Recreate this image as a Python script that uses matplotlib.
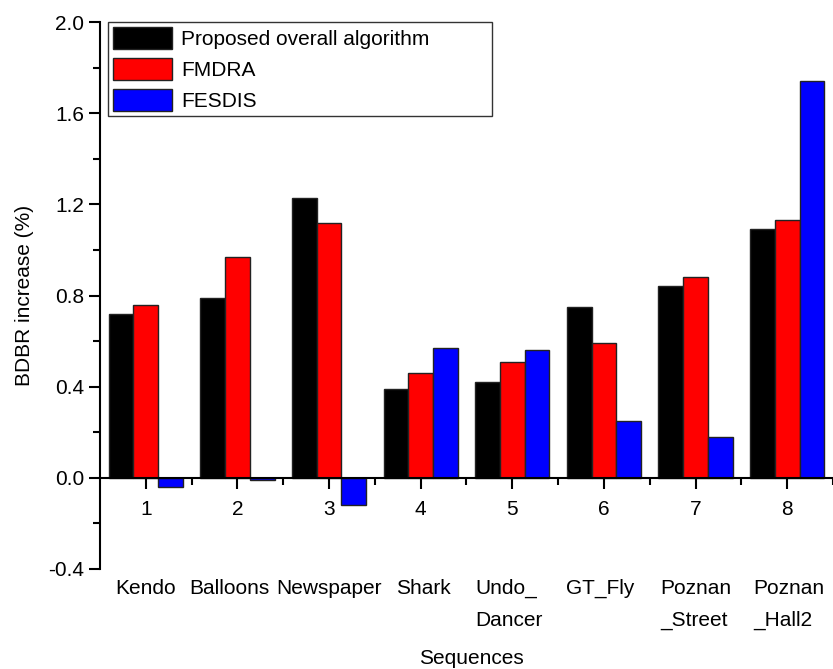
import numpy as np
import matplotlib
matplotlib.use('Agg')
from matplotlib import pyplot as plt
from matplotlib.ticker import MultipleLocator
from matplotlib.transforms import blended_transform_factory

plt.rcParams['font.family'] = ['Liberation Sans', 'DejaVu Sans']

sequences = ['Kendo', 'Balloons', 'Newspaper', 'Shark', 'Undo_\nDancer',
             'GT_Fly', 'Poznan\n_Street', 'Poznan\n_Hall2']
proposed = [0.72, 0.79, 1.23, 0.39, 0.42, 0.75, 0.84, 1.09]
fmdra = [0.76, 0.97, 1.12, 0.46, 0.51, 0.59, 0.88, 1.13]
fesdis = [-0.04, -0.01, -0.12, 0.57, 0.56, 0.25, 0.18, 1.74]
yticks = [-0.4, 0.0, 0.4, 0.8, 1.2, 1.6, 2.0]

x = np.arange(1, len(sequences) + 1)
w = 0.27
fs = 15

fig = plt.figure(figsize=(8.33, 6.69), dpi=100)
ax = fig.add_axes([0.120, 0.1495, 0.880, 0.8175])

bar_kw = dict(width=w, edgecolor='#222222', linewidth=1.0)
ax.bar(x - w, proposed, color='black', label='Proposed overall algorithm', **bar_kw)
ax.bar(x, fmdra, color='#ff0000', label='FMDRA', **bar_kw)
ax.bar(x + w, fesdis, color='#0000ff', label='FESDIS', **bar_kw)

ax.set_xlim(0.5, 8.47)
ax.set_ylim(-0.4, 2.0)
ax.set_yticks(yticks)
ax.set_yticklabels(['%.1f' % v for v in yticks])
ax.yaxis.set_minor_locator(MultipleLocator(0.2))
ax.set_xticks(x)
ax.set_xticklabels([str(i) for i in x])
ax.set_xticks(x + 0.5, minor=True)

ax.spines['top'].set_visible(False)
ax.spines['right'].set_visible(False)
ax.spines['bottom'].set_position(('data', 0))
for s in ('left', 'bottom'):
    ax.spines[s].set_linewidth(1.5)

ax.tick_params(axis='both', which='major', direction='out', length=8, width=1.5,
               labelsize=fs, colors='black')
ax.tick_params(axis='both', which='minor', direction='out', length=5, width=1.5)
ax.tick_params(axis='x', which='major', pad=8)

# sequence names under the numeric ticks (Balloons nudged left so it
# doesn't run into Newspaper)
trans = blended_transform_factory(ax.transData, ax.transAxes)
nudge = [0, -8, 0, 3, -3, -4, 0, 2]
for xi, name, dx in zip(x, sequences, nudge):
    ax.annotate(name, (xi, 0), xycoords=trans, xytext=(dx * 0.72, -7),
                textcoords='offset points', ha='center', va='top',
                multialignment='left', fontsize=fs, linespacing=1.85)

ax.set_ylabel('BDBR increase (%)', fontsize=fs, labelpad=10)
fig.text(471 / 833, 1 - 658 / 669, 'Sequences', ha='center', va='center', fontsize=fs)

leg = ax.legend(loc='upper left',
                bbox_to_anchor=(108 / 833, 1 - 117 / 669, 384 / 833, 95 / 669),
                bbox_transform=fig.transFigure, mode='expand', fontsize=fs,
                frameon=True, fancybox=False, borderaxespad=0, handlelength=2.8,
                handleheight=1.2, handletextpad=0.45, labelspacing=0.45,
                borderpad=0.25)
leg.get_frame().set_edgecolor('black')
leg.get_frame().set_linewidth(1.0)

fig.savefig('out.png', dpi=100)
